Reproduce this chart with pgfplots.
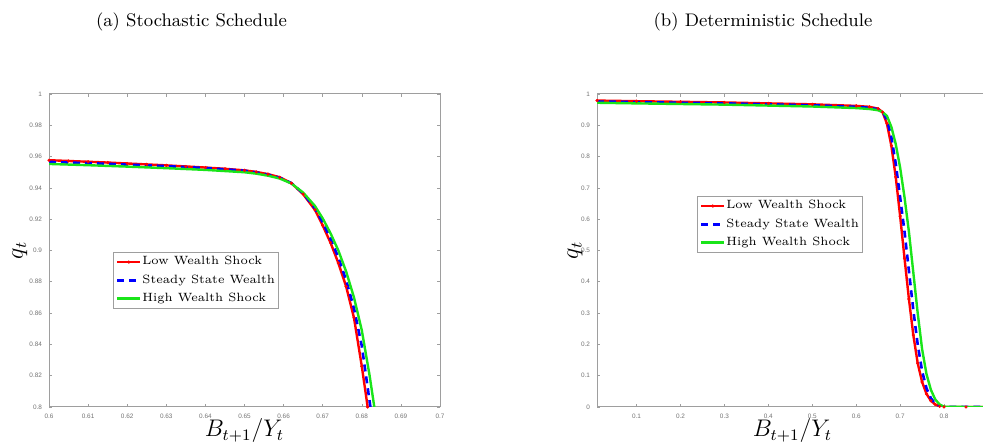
\documentclass[border=0pt]{standalone}
\usepackage{fontspec}
\usepackage{pgfplots}
\pgfplotsset{compat=1.18}
\newfontfamily\tickfont{Liberation Sans}
\definecolor{mred}{rgb}{1,0,0}
\definecolor{mblue}{rgb}{0,0,1}
\definecolor{mgreen}{rgb}{0.1,0.9,0.1}
\definecolor{axgray}{gray}{0.62}
\definecolor{tkgray}{gray}{0.45}

\pgfplotstableread{
x y
0.600 0.9577
0.605 0.9572
0.610 0.9567
0.615 0.9562
0.620 0.9556
0.625 0.9550
0.630 0.9544
0.635 0.9537
0.640 0.9530
0.645 0.9522
0.650 0.9512
0.653 0.9502
0.656 0.9488
0.659 0.9468
0.662 0.9430
0.665 0.9360
0.668 0.9260
0.670 0.9160
0.672 0.9050
0.674 0.8920
0.676 0.8770
0.678 0.8570
0.680 0.8260
0.6815 0.8000
}\stochLow
\pgfplotstableread{
x y
0.600 0.9566
0.610 0.9558
0.620 0.9549
0.630 0.9539
0.640 0.9527
0.650 0.9510
0.653 0.9499
0.656 0.9484
0.659 0.9465
0.662 0.9430
0.665 0.9365
0.668 0.9270
0.670 0.9180
0.672 0.9075
0.674 0.8955
0.676 0.8810
0.678 0.8630
0.680 0.8390
0.6822 0.8000
}\stochSS
\pgfplotstableread{
x y
0.600 0.9553
0.610 0.9545
0.620 0.9536
0.630 0.9526
0.640 0.9515
0.650 0.9500
0.653 0.9491
0.656 0.9478
0.659 0.9460
0.662 0.9428
0.665 0.9370
0.668 0.9285
0.670 0.9205
0.672 0.9110
0.674 0.9000
0.676 0.8865
0.678 0.8700
0.680 0.8490
0.682 0.8200
0.6832 0.8000
}\stochHigh

\pgfplotstableread{
x y
0.01 0.979
0.10 0.977
0.20 0.975
0.30 0.973
0.40 0.970
0.50 0.967
0.60 0.962
0.63 0.959
0.65 0.953
0.66 0.942
0.67 0.905
0.68 0.835
0.69 0.735
0.70 0.610
0.71 0.475
0.72 0.345
0.73 0.230
0.74 0.140
0.75 0.080
0.76 0.042
0.77 0.020
0.78 0.008
0.79 0.002
0.80 0.000
0.85 0.000
0.90 0.000
}\detLow
\pgfplotstableread{
x y
0.01 0.976
0.10 0.974
0.20 0.972
0.30 0.970
0.40 0.967
0.50 0.964
0.60 0.959
0.63 0.956
0.65 0.951
0.66 0.944
0.67 0.918
0.68 0.862
0.69 0.778
0.70 0.670
0.71 0.560
0.72 0.435
0.73 0.310
0.74 0.200
0.75 0.115
0.76 0.060
0.77 0.028
0.78 0.011
0.79 0.003
0.80 0.000
0.85 0.000
0.90 0.000
}\detSS
\pgfplotstableread{
x y
0.01 0.972
0.10 0.970
0.20 0.968
0.30 0.966
0.40 0.963
0.50 0.960
0.60 0.955
0.63 0.952
0.65 0.948
0.66 0.942
0.67 0.930
0.68 0.895
0.69 0.840
0.70 0.765
0.71 0.670
0.72 0.560
0.73 0.430
0.74 0.300
0.75 0.185
0.76 0.105
0.77 0.055
0.78 0.024
0.79 0.008
0.80 0.001
0.85 0.000
0.90 0.000
}\detHigh

\pgfplotsset{
  mystyle/.style={
    scale only axis, width=195.5pt, height=156.5pt,
    axis line style={axgray, line width=0.5pt},
    tick style={axgray, line width=0.3pt},
    major tick length=1.5pt, tick align=inside,
    ticklabel style={font=\tickfont\fontsize{3.2}{3.5}\selectfont, text=tkgray},
    /pgf/number format/assume math mode=true,
    xtick pos=both, ytick pos=both,
    xticklabel pos=lower, yticklabel pos=left,
    legend cell align=left,
    legend style={draw=axgray, fill=white, line width=0.5pt,
      font=\fontsize{6}{7}\selectfont, inner xsep=1.2pt, inner ysep=1.5pt,
      row sep=2.6pt, nodes={inner sep=0.4pt}},
    legend image code/.code={\draw[mark repeat=2,mark phase=2,##1] plot coordinates {(0pt,0pt)(5.75pt,0pt)(11.5pt,0pt)};},
    xlabel={$B_{t+1}/Y_t$},
    ylabel={$q_t$},
    label style={font=\fontsize{11.5}{12}\selectfont},
    xlabel style={at={(axis description cs:0.5,-0.075)}, anchor=center},
    clip=true,
  },
  lowst/.style={mred, line width=1.2pt, mark=*, mark size=0.7pt, mark options={line width=0.2pt}},
  ssst/.style={mblue, line width=1.3pt, dash pattern=on 3.5pt off 2.5pt},
  highst/.style={mgreen, line width=1.2pt},
}

\begin{document}
\begin{tikzpicture}
\path[use as bounding box] (0,0) rectangle (491.5pt,221pt);
\clip (0,0) rectangle (491.5pt,221pt);
\node[font=\fontsize{9.1}{10}\selectfont] at (95.75pt,210pt) {(a) Stochastic Schedule};
\node[font=\fontsize{9.1}{10}\selectfont] at (381.5pt,210pt) {(b) Deterministic Schedule};

\begin{axis}[mystyle, at={(24.5pt,17.5pt)}, anchor=south west,
  xmin=0.6, xmax=0.7, ymin=0.8, ymax=1,
  xtick={0.6,0.61,0.62,0.63,0.64,0.65,0.66,0.67,0.68,0.69,0.7},
  xticklabels={0.6,0.61,0.62,0.63,0.64,0.65,0.66,0.67,0.68,0.69,0.7},
  ytick={0.8,0.82,0.84,0.86,0.88,0.9,0.92,0.94,0.96,0.98,1},
  yticklabels={0.8,0.82,0.84,0.86,0.88,0.9,0.92,0.94,0.96,0.98,1},
  ylabel style={at={(axis description cs:-0.075,0.5)}, anchor=center},
  legend style={at={(0.164,0.495)}, anchor=north west}]
\addplot[lowst] table[x=x,y=y] {\stochLow};
\addlegendentry{Low Wealth Shock}
\addplot[ssst] table[x=x,y=y] {\stochSS};
\addlegendentry{Steady State Wealth}
\addplot[highst] table[x=x,y=y] {\stochHigh};
\addlegendentry{High Wealth Shock}
\end{axis}

\begin{axis}[mystyle, at={(298.5pt,17.5pt)}, anchor=south west,
  xmin=0.01, xmax=0.9, ymin=0, ymax=1,
  xtick={0.1,0.2,0.3,0.4,0.5,0.6,0.7,0.8},
  xticklabels={0.1,0.2,0.3,0.4,0.5,0.6,0.7,0.8},
  ytick={0,0.1,0.2,0.3,0.4,0.5,0.6,0.7,0.8,0.9,1},
  yticklabels={0,0.1,0.2,0.3,0.4,0.5,0.6,0.7,0.8,0.9,1},
  ylabel style={at={(axis description cs:-0.056,0.5)}, anchor=center},
  legend style={at={(0.256,0.674)}, anchor=north west}]
\addplot[lowst] table[x=x,y=y] {\detLow};
\addlegendentry{Low Wealth Shock}
\addplot[ssst] table[x=x,y=y] {\detSS};
\addlegendentry{Steady State Wealth}
\addplot[highst] table[x=x,y=y] {\detHigh};
\addlegendentry{High Wealth Shock}
\end{axis}
\end{tikzpicture}
\end{document}
